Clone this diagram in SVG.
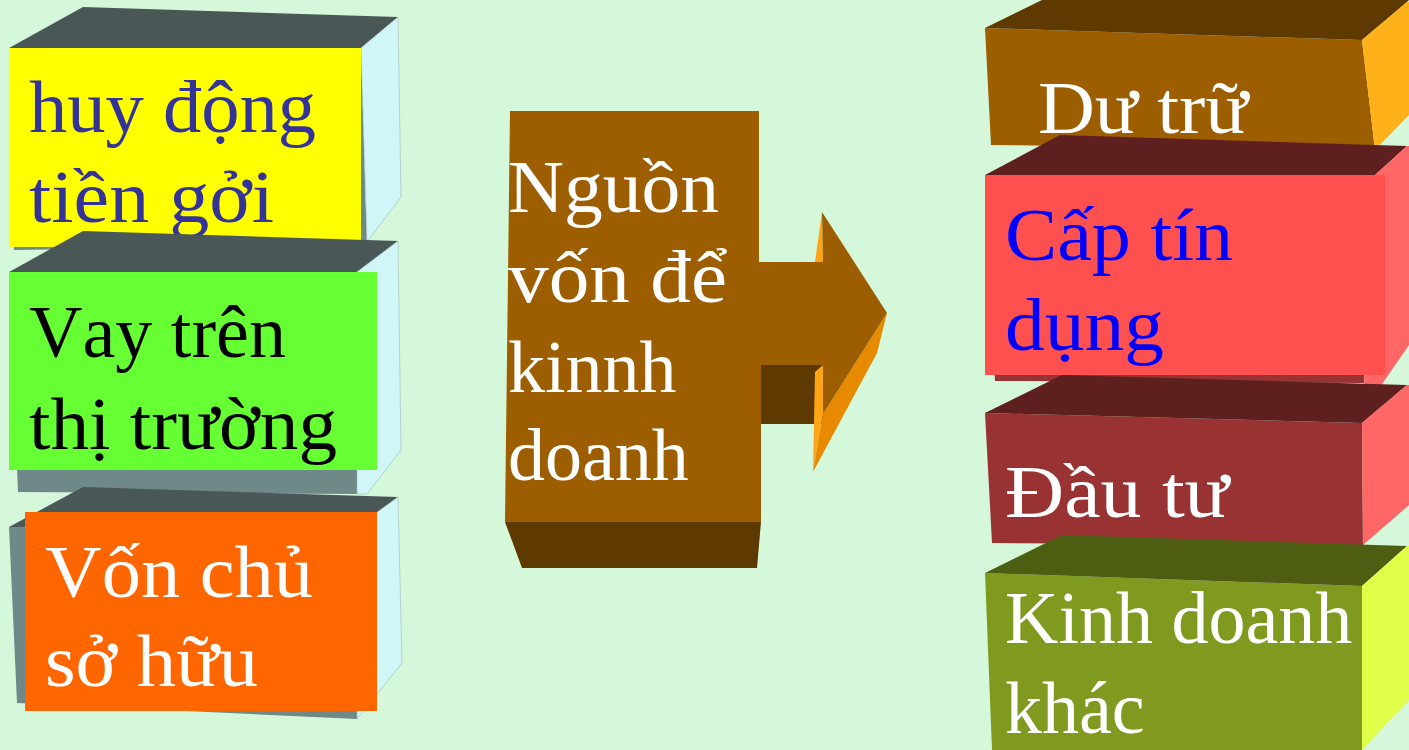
<svg xmlns="http://www.w3.org/2000/svg" width="1409" height="750" viewBox="0 0 1409 750">
<style>
text{font-family:"Liberation Serif","Times New Roman",serif;font-size:74px;font-kerning:none}
.top1{fill:#4A5757}.side1{fill:#D1F6F8;stroke:#9FB9B9;stroke-width:0.6}.front1{fill:#6F8888}
.w{fill:#FFFFFF}
</style>
<rect width="1409" height="750" fill="#D6F8DA"/>
<g id="node-huy-dong">
<polygon class="front1" points="9,48 361,48 367,245 14,250"/>
<polygon class="top1" points="9,48 83,7 398,17 361,48"/>
<polygon class="side1" points="361,48 398,17 401,197 367,242"/>
<rect x="9" y="48" width="352" height="199" fill="#FFFF00"/>
<text x="29" y="132" fill="#333399" textLength="287" lengthAdjust="spacingAndGlyphs">huy động</text>
<text x="29" y="222" fill="#333399" textLength="245" lengthAdjust="spacingAndGlyphs">tiền gởi</text>
</g>
<g id="node-vay">
<polygon class="front1" points="9,272 357,272 357,494 18,492"/>
<polygon class="top1" points="9,272 83,231 398,241 357,272"/>
<polygon class="side1" points="357,272 398,241 401,450 367,494 357,494"/>
<rect x="9" y="272" width="368" height="198" fill="#66FF33"/>
<text x="29" y="357" fill="#000000" textLength="257" lengthAdjust="spacingAndGlyphs">Vay trên</text>
<text x="29" y="449" fill="#000000" textLength="308" lengthAdjust="spacingAndGlyphs">thị trường</text>
</g>
<g id="node-von-chu">
<polygon class="front1" points="9,527 357,527 357,719 17,703"/>
<polygon class="top1" points="9,527 83,487 398,497 357,527"/>
<polygon class="side1" points="357,527 398,497 402,663 357,719"/>
<rect x="25" y="512" width="352" height="199" fill="#FF6600"/>
<text x="45" y="597" class="w" textLength="268" lengthAdjust="spacingAndGlyphs">Vốn chủ</text>
<text x="45" y="686" class="w" textLength="213" lengthAdjust="spacingAndGlyphs">sở hữu</text>
</g>
<g id="node-nguon-von">
<polygon fill="#5E3900" points="505,522 761,522 757,568 522,568"/>
<polygon fill="#5E3900" points="759,365 823,365 823,424 761,424"/>
<polygon fill="#FFA515" points="822,212 815,262 823,262"/>
<polygon fill="#FFA515" points="823,365 823,414 813,472 815,372"/>
<polygon fill="#E88A00" points="887,313 877,353 813,472 823,414"/>
<polygon fill="#9C5E00" points="510,111 759,111 759,262 823,262 822,212 887,313 823,414 823,365 761,365 761,522 505,522"/>
<text x="508" y="212" class="w" textLength="211" lengthAdjust="spacingAndGlyphs">Nguồn</text>
<text x="508" y="302" class="w" textLength="219" lengthAdjust="spacingAndGlyphs">vốn để</text>
<text x="508" y="392" class="w">kinnh</text>
<text x="508" y="480" class="w">doanh</text>
</g>
<g id="connectors"></g>
<g id="node-du-tru">
<polygon fill="#9C5E00" points="985,28 1362,40 1375,150 991,145"/>
<polygon fill="#5E3900" points="985,28 1042,0 1409,0 1407,2 1362,40"/>
<polygon fill="#FFB11A" points="1362,40 1407,2 1409,2 1409,115 1375,150"/>
<text x="1038" y="133" class="w" textLength="210" lengthAdjust="spacingAndGlyphs">Dư trữ</text>
</g>
<g id="node-cap-tin-dung">
<polygon fill="#993333" points="985,175 1375,175 1364,383 995,381"/>
<polygon fill="#5E1F1F" points="985,175 1060,135 1407,146 1375,175"/>
<polygon fill="#FF6666" points="1375,175 1407,146 1409,146 1409,345 1380,387 1364,387"/>
<rect x="985" y="175" width="400" height="200" fill="#FF5050"/>
<text x="1005" y="260" fill="#0000FF" textLength="228" lengthAdjust="spacingAndGlyphs">Cấp tín</text>
<text x="1005" y="350" fill="#0000FF" textLength="159" lengthAdjust="spacingAndGlyphs">dụng</text>
</g>
<g id="node-dau-tu">
<polygon fill="#993333" points="985,413 1362,423 1363,545 992,543"/>
<polygon fill="#5E1F1F" points="985,413 1062,375 1407,385 1362,423"/>
<polygon fill="#FF6666" points="1362,423 1407,385 1409,385 1409,505 1363,545"/>
<text x="1005" y="517" class="w" textLength="224" lengthAdjust="spacingAndGlyphs">Đầu tư</text>
</g>
<g id="node-kinh-doanh-khac">
<polygon fill="#7F9A1F" points="985,573 1362,586 1362,750 992,750"/>
<polygon fill="#4D5E13" points="985,573 1062,535 1407,546 1362,586"/>
<polygon fill="#E0FF48" points="1362,586 1407,546 1409,546 1409,700 1362,750"/>
<text x="1005" y="643" class="w">Kinh doanh</text>
<text x="1005" y="733" class="w">khác</text>
</g>
</svg>
